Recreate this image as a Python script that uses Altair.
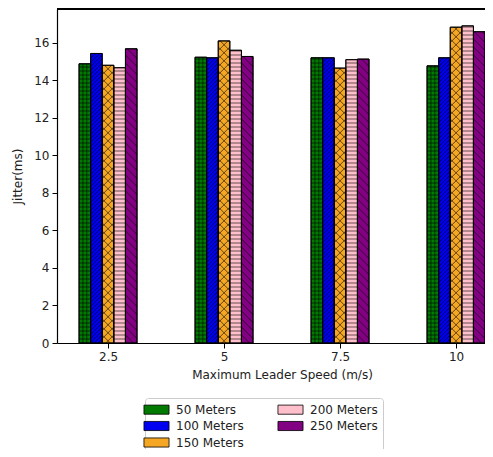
import altair as alt
import pandas as pd
import numpy as np

speeds = [2.5, 5, 7.5, 10]
speed_ticks = [2.5, 5, 7.5, 10]
series = ["50 Meters", "100 Meters", "150 Meters", "200 Meters", "250 Meters"]
colors = ["#007a00", "#0000f0", "#f5a623", "#ffc0cb", "#820082"]
hatches = ["+", "//", "x", "-", "\\"]

jitter_50 = [14.88, 15.23, 15.20, 14.77]
jitter_100 = [15.43, 15.20, 15.20, 15.20]
jitter_150 = [14.80, 16.10, 14.65, 16.83]
jitter_200 = [14.67, 15.60, 15.10, 16.90]
jitter_250 = [15.68, 15.27, 15.13, 16.59]
all_values = [jitter_50, jitter_100, jitter_150, jitter_200, jitter_250]

y_ticks = [0, 2, 4, 6, 8, 10, 12, 14, 16]

# plot geometry
W, H = 428, 334
X_DOM = [1.40, 10.624]
Y_DOM = [0, 17.8]
kx = W / (X_DOM[1] - X_DOM[0])
ky = H / (Y_DOM[1] - Y_DOM[0])
bar_w = 0.25

rows = []
for i, (name, vals) in enumerate(zip(series, all_values)):
    for s, v in zip(speeds, vals):
        x0 = s + (i - 2.5) * bar_w
        rows.append({"series": name, "speed": s, "x0": x0, "x1": x0 + bar_w, "value": v, "base": 0.0})
bars = pd.DataFrame(rows)

# hatch segments derived from the bars
segs = []
def diag(xl, xr, v, step_px, up=True):
    h = (xr - xl) * kx / ky
    step = step_px / ky
    y0 = -h
    while y0 < v:
        tmin = max(0.0, (0.0 - y0) / h)
        tmax = min(1.0, (v - y0) / h)
        if tmin < tmax:
            if up:
                segs.append((xl + tmin * (xr - xl), y0 + tmin * h, xl + tmax * (xr - xl), y0 + tmax * h))
            else:
                segs.append((xr - tmin * (xr - xl), y0 + tmin * h, xr - tmax * (xr - xl), y0 + tmax * h))
        y0 += step

for r in rows:
    hat = hatches[series.index(r["series"])]
    xl, xr, v = r["x0"], r["x1"], r["value"]
    if hat in ("+", "-"):
        step = 4.0 / ky
        y = step
        while y < v:
            segs.append((xl, y, xr, y))
            y += step
    if hat == "+":
        for j in (1, 2):
            xx = xl + j * (xr - xl) / 3
            segs.append((xx, 0.0, xx, v))
    if hat == "//":
        diag(xl, xr, v, 4.0, up=True)
    if hat == "\\":
        diag(xl, xr, v, 8.0, up=False)
    if hat == "x":
        diag(xl, xr, v, 8.0, up=True)
        diag(xl, xr, v, 8.0, up=False)
hatch_df = pd.DataFrame(segs, columns=["hx0", "hy0", "hx1", "hy1"])

xs = alt.Scale(domain=X_DOM, nice=False, zero=False)
ys = alt.Scale(domain=Y_DOM, nice=False, zero=False)

bar_layer = alt.Chart(bars).mark_rect(stroke="black", strokeWidth=0.9).encode(
    x=alt.X("x0:Q", scale=xs,
            axis=alt.Axis(values=speed_ticks, labelExpr="format(datum.value, '.3~g')",
                          title="Maximum Leader Speed (m/s)",
                          titlePadding=7, titleX=225)),
    x2="x1:Q",
    y=alt.Y("base:Q", scale=ys,
            axis=alt.Axis(values=y_ticks, title="Jitter(ms)", titlePadding=9)),
    y2="value:Q",
    color=alt.Color("series:N", scale=alt.Scale(domain=series, range=colors),
                    legend=alt.Legend(title=None, orient="none", legendX=88, legendY=389,
                                      columns=2, columnPadding=32, rowPadding=3.5,
                                      symbolType="M-2.2,-0.8L2.2,-0.8L2.2,0.8L-2.2,0.8Z",
                                      symbolSize=130, symbolStrokeColor="black",
                                      symbolStrokeWidth=0.8, symbolOpacity=1,
                                      labelOffset=13, labelFontSize=12,
                                      labelFont="DejaVu Sans", labelColor="#222",
                                      padding=5, strokeColor="#cccccc",
                                      cornerRadius=3, fillColor="white")),
)

hatch_layer = alt.Chart(hatch_df).mark_rule(color="black", strokeWidth=0.8, opacity=0.75).encode(
    x=alt.X("hx0:Q", scale=xs),
    x2="hx1:Q",
    y=alt.Y("hy0:Q", scale=ys),
    y2="hy1:Q",
)

outline = alt.Chart(bars).mark_rect(fillOpacity=0, stroke="black", strokeWidth=0.9).encode(
    x=alt.X("x0:Q", scale=xs), x2="x1:Q",
    y=alt.Y("base:Q", scale=ys), y2="value:Q",
)

top_spine = alt.Chart(bars).mark_rule(color="black", strokeWidth=1.2).encode(
    x=alt.value(0), x2=alt.value(W + 10), y=alt.value(0),
)

chart = alt.layer(bar_layer, hatch_layer, outline, top_spine).properties(
    width=W, height=H,
    autosize=alt.AutoSizeParams(type="none"),
    padding={"left": 49, "top": 1, "right": 0, "bottom": 106},
).configure_view(stroke=None).configure_axis(
    labelFont="DejaVu Sans", labelFontSize=12, labelColor="#222",
    titleFont="DejaVu Sans", titleFontSize=12, titleColor="#222", titleFontWeight="normal",
    tickColor="black", domainColor="black", domainWidth=1.2, tickSize=5, labelPadding=3, grid=False,
)

chart.save("out.html", embed_options={"renderer": "svg", "actions": False})
